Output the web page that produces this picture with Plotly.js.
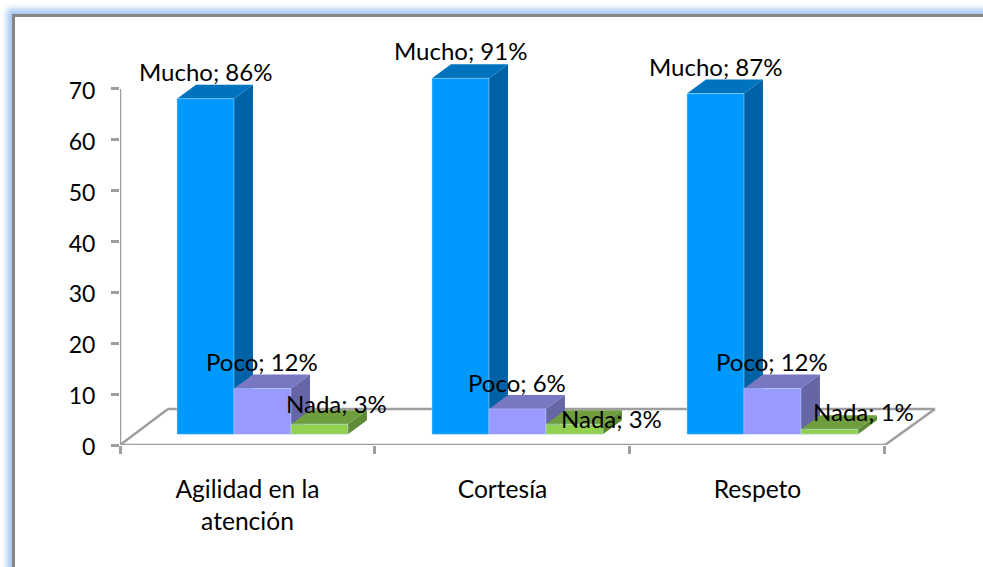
<!DOCTYPE html>
<html>
<head>
<meta charset="utf-8">
<script src="https://cdn.plot.ly/plotly-3.0.1.min.js"></script>
<style>
  html, body { margin: 0; padding: 0; background: #fff; overflow: hidden; }
  #frame {
    position: absolute; left: 12px; top: 14px; width: 1100px; height: 700px;
    border-left: 3px solid #868686; border-top: 3px solid #868686;
    box-shadow: -1px -1px 6px 4px #a5c8f4;
    background: #fff;
  }
  #chart { position: absolute; left: 0; top: 0; width: 983px; height: 567px; }
</style>
</head>
<body>
<div id="frame"></div>
<div id="chart"></div>
<script>
// Survey answers per service aspect (respondent counts; 77 people answered)
const categories = ['Agilidad en la atención', 'Cortesía', 'Respeto'];
const tickLines = [['Agilidad en la', 'atención'], ['Cortesía'], ['Respeto']];
const mucho = [66, 70, 67];
const poco = [9, 5, 9];
const nada = [2, 2, 1];
const respondents = 77;
const seriesNames = ['Mucho', 'Poco', 'Nada'];
const yTicks = [0, 10, 20, 30, 40, 50, 60, 70];

// Pseudo-3D geometry, in axis units
const floorLift = 2.1;           // bars stand on the middle of the floor
const barWidth = 0.2235;
const firstBarOffset = -0.2765;
const depthX = 0.0745, depthY = 2.75;
const floorX = 0.188, floorY = 7.1;
const xMin = -0.5, xEnd = 2.5, xMax = 2.755, yMax = 79.63;

// [front, side, top] colours for each series
const faces = [
  ['#0099FF', '#0062A6', '#0073BF'],
  ['#9999FF', '#6666A6', '#7777C2'],
  ['#92D050', '#5F8A36', '#6E9E3E']
];
// Pixel placement of each data label relative to its bar's top centre
const labelShift = [
  [[0, 27], [0, 28], [0, 27]],
  [[0, 27], [0, 26], [0, 27]],
  [[17, 21], [37, 6], [34, 18]]
];

const seriesValues = [mucho, poco, nada];
const poly = pts => 'M' + pts.map(p => p.join(',')).join('L') + 'Z';
const shapes = [];
const axisLine = { color: '#9E9E9E', width: 2.5 };

// Floor and axis lines
const addLine = (x0, y0, x1, y1) => shapes.push({
  type: 'line', xref: 'x', yref: 'y', layer: 'below', x0, y0, x1, y1, line: axisLine
});
addLine(xMin, 0, xMin, 70);
addLine(xMin, 0, xEnd, 0);
addLine(xMin, 0, xMin + floorX, floorY);
addLine(xEnd, 0, xEnd + floorX + 0.008, floorY);
addLine(xMin + floorX, floorY, xEnd + floorX + 0.008, floorY);

// Side and top faces of every bar, painted behind the front faces
categories.forEach((_, c) => {
  seriesValues.forEach((vals, s) => {
    const x0 = c + firstBarOffset + s * barWidth;
    const x1 = x0 + barWidth;
    const y0 = floorLift;
    const y1 = floorLift + vals[c];
    shapes.push({
      type: 'path', xref: 'x', yref: 'y', layer: 'below', line: { width: 0 },
      fillcolor: faces[s][1],
      path: poly([[x1, y0], [x1 + depthX, y0 + depthY], [x1 + depthX, y1 + depthY], [x1, y1]])
    });
    shapes.push({
      type: 'path', xref: 'x', yref: 'y', layer: 'below', line: { width: 0 },
      fillcolor: faces[s][2],
      path: poly([[x0, y1], [x0 + depthX, y1 + depthY], [x1 + depthX, y1 + depthY], [x1, y1]])
    });
  });
});

const traces = seriesValues.map((vals, s) => ({
  type: 'bar',
  name: seriesNames[s],
  x: categories,
  y: vals,
  base: vals.map(() => floorLift),
  width: barWidth,
  offset: firstBarOffset + s * barWidth,
  marker: { color: faces[s][0], line: { color: 'rgba(190,225,255,0.45)', width: 1 } },
  hoverinfo: 'name+y'
}));

// Data labels show each count as a share of all respondents
const annotations = [];
seriesValues.forEach((vals, s) => {
  vals.forEach((v, c) => {
    annotations.push({
      xref: 'x', yref: 'y',
      x: c + firstBarOffset + (s + 0.5) * barWidth,
      y: floorLift + v,
      xanchor: 'center', yanchor: 'middle',
      xshift: labelShift[s][c][0], yshift: labelShift[s][c][1],
      showarrow: false,
      text: seriesNames[s] + '; ' + Math.round(100 * v / respondents) + '%',
      font: { family: 'Lato, sans-serif', size: 24, color: '#000' }
    });
  });
});

const layout = {
  width: 983, height: 567,
  margin: { l: 120, r: 33, t: 40, b: 122, pad: 0 },
  paper_bgcolor: 'rgba(0,0,0,0)',
  plot_bgcolor: 'rgba(0,0,0,0)',
  showlegend: false,
  barmode: 'overlay',
  xaxis: {
    type: 'category',
    categoryorder: 'array', categoryarray: categories,
    range: [xMin, xMax],
    tickson: 'boundaries',
    tickmode: 'array', tickvals: categories,
    ticktext: tickLines.map(l => l.join('<br>')),
    ticks: 'outside', ticklen: 8, tickwidth: 2.5, tickcolor: '#9E9E9E',
    showline: false, showgrid: false, zeroline: false,
    ticklabelstandoff: 27,
    tickfont: { family: 'Lato, sans-serif', size: 24.6, color: '#000' }
  },
  yaxis: {
    range: [0, yMax],
    tickmode: 'array', tickvals: yTicks, ticktext: yTicks.map(String),
    ticks: 'outside', ticklen: 8, tickwidth: 2.5, tickcolor: '#9E9E9E',
    showline: false, showgrid: false, zeroline: false,
    ticklabelstandoff: 11,
    ticklabelshift: 2,
    tickfont: { family: 'Lato, sans-serif', size: 23, color: '#000' }
  },
  shapes,
  annotations
};

Plotly.newPlot('chart', traces, layout, { displayModeBar: false, responsive: false });
</script>
</body>
</html>
